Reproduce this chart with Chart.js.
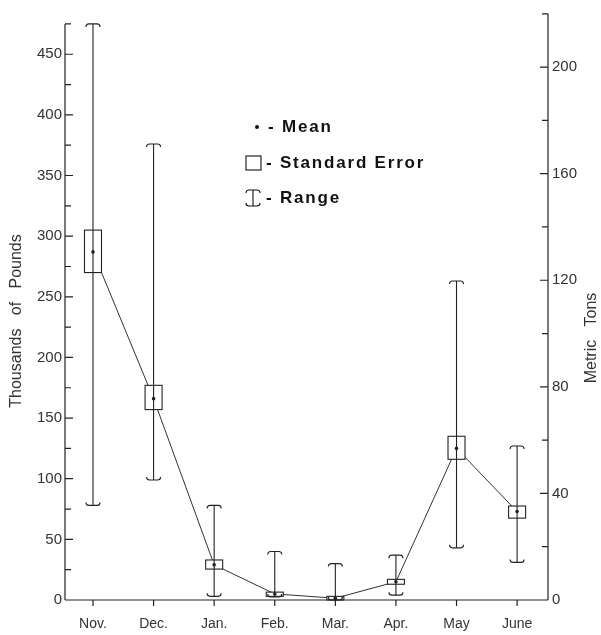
<!DOCTYPE html>
<html>
<head>
<meta charset="utf-8">
<script src="https://cdn.jsdelivr.net/npm/chart.js@4"></script>
<style>
  body { margin: 0; background: #fff; }
  canvas { display: block; }
</style>
</head>
<body>
<canvas id="chart" width="601" height="635"></canvas>
<script>
// monthly catch, thousands of pounds
const months = ['Nov.', 'Dec.', 'Jan.', 'Feb.', 'Mar.', 'Apr.', 'May', 'June'];
const mean = [287, 166, 29, 5, 1.5, 15, 125, 73];
const seHigh = [305, 177, 33, 6.5, 3, 17, 135, 77.5];
const seLow = [270, 157, 25.5, 3, 0, 13, 116, 67.5];
const rangeHigh = [475, 376, 78, 40, 30, 37, 263, 127];
const rangeLow = [78, 99, 3, 2.5, 0, 4, 43, 31];

const poundTicks = [0, 50, 100, 150, 200, 250, 300, 350, 400, 450];
const tonTicks = [0, 40, 80, 120, 160, 200];

const INK = '#222';

function cap(ctx, cx, cy, dir) {
  // curled end of a range bar, dir = 1 opens downward, -1 upward
  ctx.beginPath();
  ctx.moveTo(cx - 7, cy + 3 * dir);
  ctx.quadraticCurveTo(cx - 7, cy, cx - 4, cy);
  ctx.lineTo(cx + 4, cy);
  ctx.quadraticCurveTo(cx + 7, cy, cx + 7, cy + 3 * dir);
  ctx.stroke();
}

const boxPlugin = {
  id: 'boxes',
  afterDatasetsDraw(chart) {
    const { ctx, scales: { x, y, y2 } } = chart;
    ctx.save();
    ctx.strokeStyle = INK;
    ctx.fillStyle = INK;
    ctx.lineWidth = 1.1;

    // boxes and ranges
    months.forEach((m, i) => {
      const cx = x.getPixelForValue(i);
      const top = y.getPixelForValue(seHigh[i]);
      const bot = y.getPixelForValue(seLow[i]);
      ctx.fillStyle = '#fff';
      ctx.fillRect(cx - 8.5, top, 17, bot - top);
      ctx.beginPath();
      ctx.moveTo(cx, y.getPixelForValue(rangeHigh[i]));
      ctx.lineTo(cx, y.getPixelForValue(rangeLow[i]));
      ctx.stroke();
      ctx.strokeRect(cx - 8.5, top, 17, bot - top);
      cap(ctx, cx, y.getPixelForValue(rangeHigh[i]), 1);
      cap(ctx, cx, y.getPixelForValue(rangeLow[i]), -1);
      ctx.fillStyle = INK;
      ctx.beginPath();
      ctx.arc(cx, y.getPixelForValue(mean[i]), 1.8, 0, Math.PI * 2);
      ctx.fill();
    });

    // axes with inward ticks
    const L = chart.chartArea.left, R = chart.chartArea.right;
    ctx.lineWidth = 1.2;
    ctx.beginPath();
    ctx.moveTo(L, y.getPixelForValue(0));
    ctx.lineTo(L, y.getPixelForValue(475));
    for (let v = 0; v <= 475; v += 25) {
      const py = y.getPixelForValue(v);
      ctx.moveTo(L, py);
      ctx.lineTo(L + (v % 50 === 0 ? 8 : 6), py);
    }
    ctx.moveTo(R, y2.getPixelForValue(0));
    ctx.lineTo(R, y2.getPixelForValue(220));
    for (let v = 0; v <= 220; v += 20) {
      const py = y2.getPixelForValue(v);
      ctx.moveTo(R, py);
      ctx.lineTo(R - (v % 40 === 0 ? 8 : 6), py);
    }
    const by = y.getPixelForValue(0);
    ctx.moveTo(L, by);
    ctx.lineTo(R, by);
    months.forEach((m, i) => {
      const px = x.getPixelForValue(i);
      ctx.moveTo(px, by);
      ctx.lineTo(px, by + 6);
    });
    ctx.stroke();

    // axis titles
    ctx.fillStyle = '#333';
    ctx.font = '16px "Liberation Sans"';
    ctx.textAlign = 'center';
    ctx.textBaseline = 'middle';
    ctx.save();
    ctx.translate(17, 321);
    ctx.rotate(-Math.PI / 2);
    ctx.fillText('Thousands   of   Pounds', 0, 0);
    ctx.restore();
    ctx.save();
    ctx.translate(592, 338);
    ctx.rotate(-Math.PI / 2);
    ctx.fillText('Metric   Tons', 0, 0);
    ctx.restore();

    // key
    ctx.fillStyle = '#111';
    ctx.strokeStyle = '#111';
    ctx.font = 'bold 17px "Liberation Sans"';
    ctx.letterSpacing = '1.8px';
    ctx.textAlign = 'left';
    ctx.beginPath();
    ctx.arc(257, 127, 2, 0, Math.PI * 2);
    ctx.fill();
    ctx.fillText('- Mean', 268, 127);
    ctx.lineWidth = 1.1;
    ctx.strokeRect(246, 156, 15, 14);
    ctx.fillText('- Standard Error', 266, 163);
    ctx.beginPath();
    ctx.moveTo(253, 190);
    ctx.lineTo(253, 206);
    ctx.stroke();
    cap(ctx, 253, 190, 1);
    cap(ctx, 253, 206, -1);
    ctx.fillText('- Range', 266, 198);
    ctx.restore();
  }
};

new Chart(document.getElementById('chart'), {
  type: 'line',
  data: {
    datasets: [{
      data: mean.map((v, i) => ({ x: i, y: v })),
      borderColor: '#333',
      borderWidth: 1,
      pointRadius: 0,
      tension: 0
    }]
  },
  options: {
    responsive: false,
    animation: false,
    layout: { padding: { top: 13 } },
    plugins: { legend: { display: false }, tooltip: { enabled: false } },
    scales: {
      x: {
        type: 'linear',
        min: -0.462,
        max: 7.51,
        afterBuildTicks: s => { s.ticks = months.map((m, i) => ({ value: i })); },
        afterFit: s => { s.height = 35; },
        grid: { display: false, drawTicks: false },
        border: { display: false },
        ticks: {
          autoSkip: false,
          maxRotation: 0,
          padding: 16,
          color: '#333',
          font: { family: '"Liberation Sans Narrow", "Liberation Sans"', size: 14 },
          callback: v => months[v]
        }
      },
      y: {
        position: 'left',
        min: 0,
        max: 484,
        afterBuildTicks: s => { s.ticks = poundTicks.map(v => ({ value: v })); },
        afterFit: s => { s.width = 65; },
        grid: { display: false, drawTicks: false },
        border: { display: false },
        ticks: {
          padding: 3,
          color: '#333',
          font: { family: '"Liberation Sans"', size: 15 }
        }
      },
      y2: {
        position: 'right',
        min: 0,
        max: 220.3,
        afterBuildTicks: s => { s.ticks = tonTicks.map(v => ({ value: v })); },
        afterFit: s => { s.width = 53; },
        grid: { display: false, drawTicks: false },
        border: { display: false },
        ticks: {
          padding: 4,
          color: '#333',
          font: { family: '"Liberation Sans"', size: 15 }
        }
      }
    }
  },
  plugins: [boxPlugin]
});
</script>
</body>
</html>
